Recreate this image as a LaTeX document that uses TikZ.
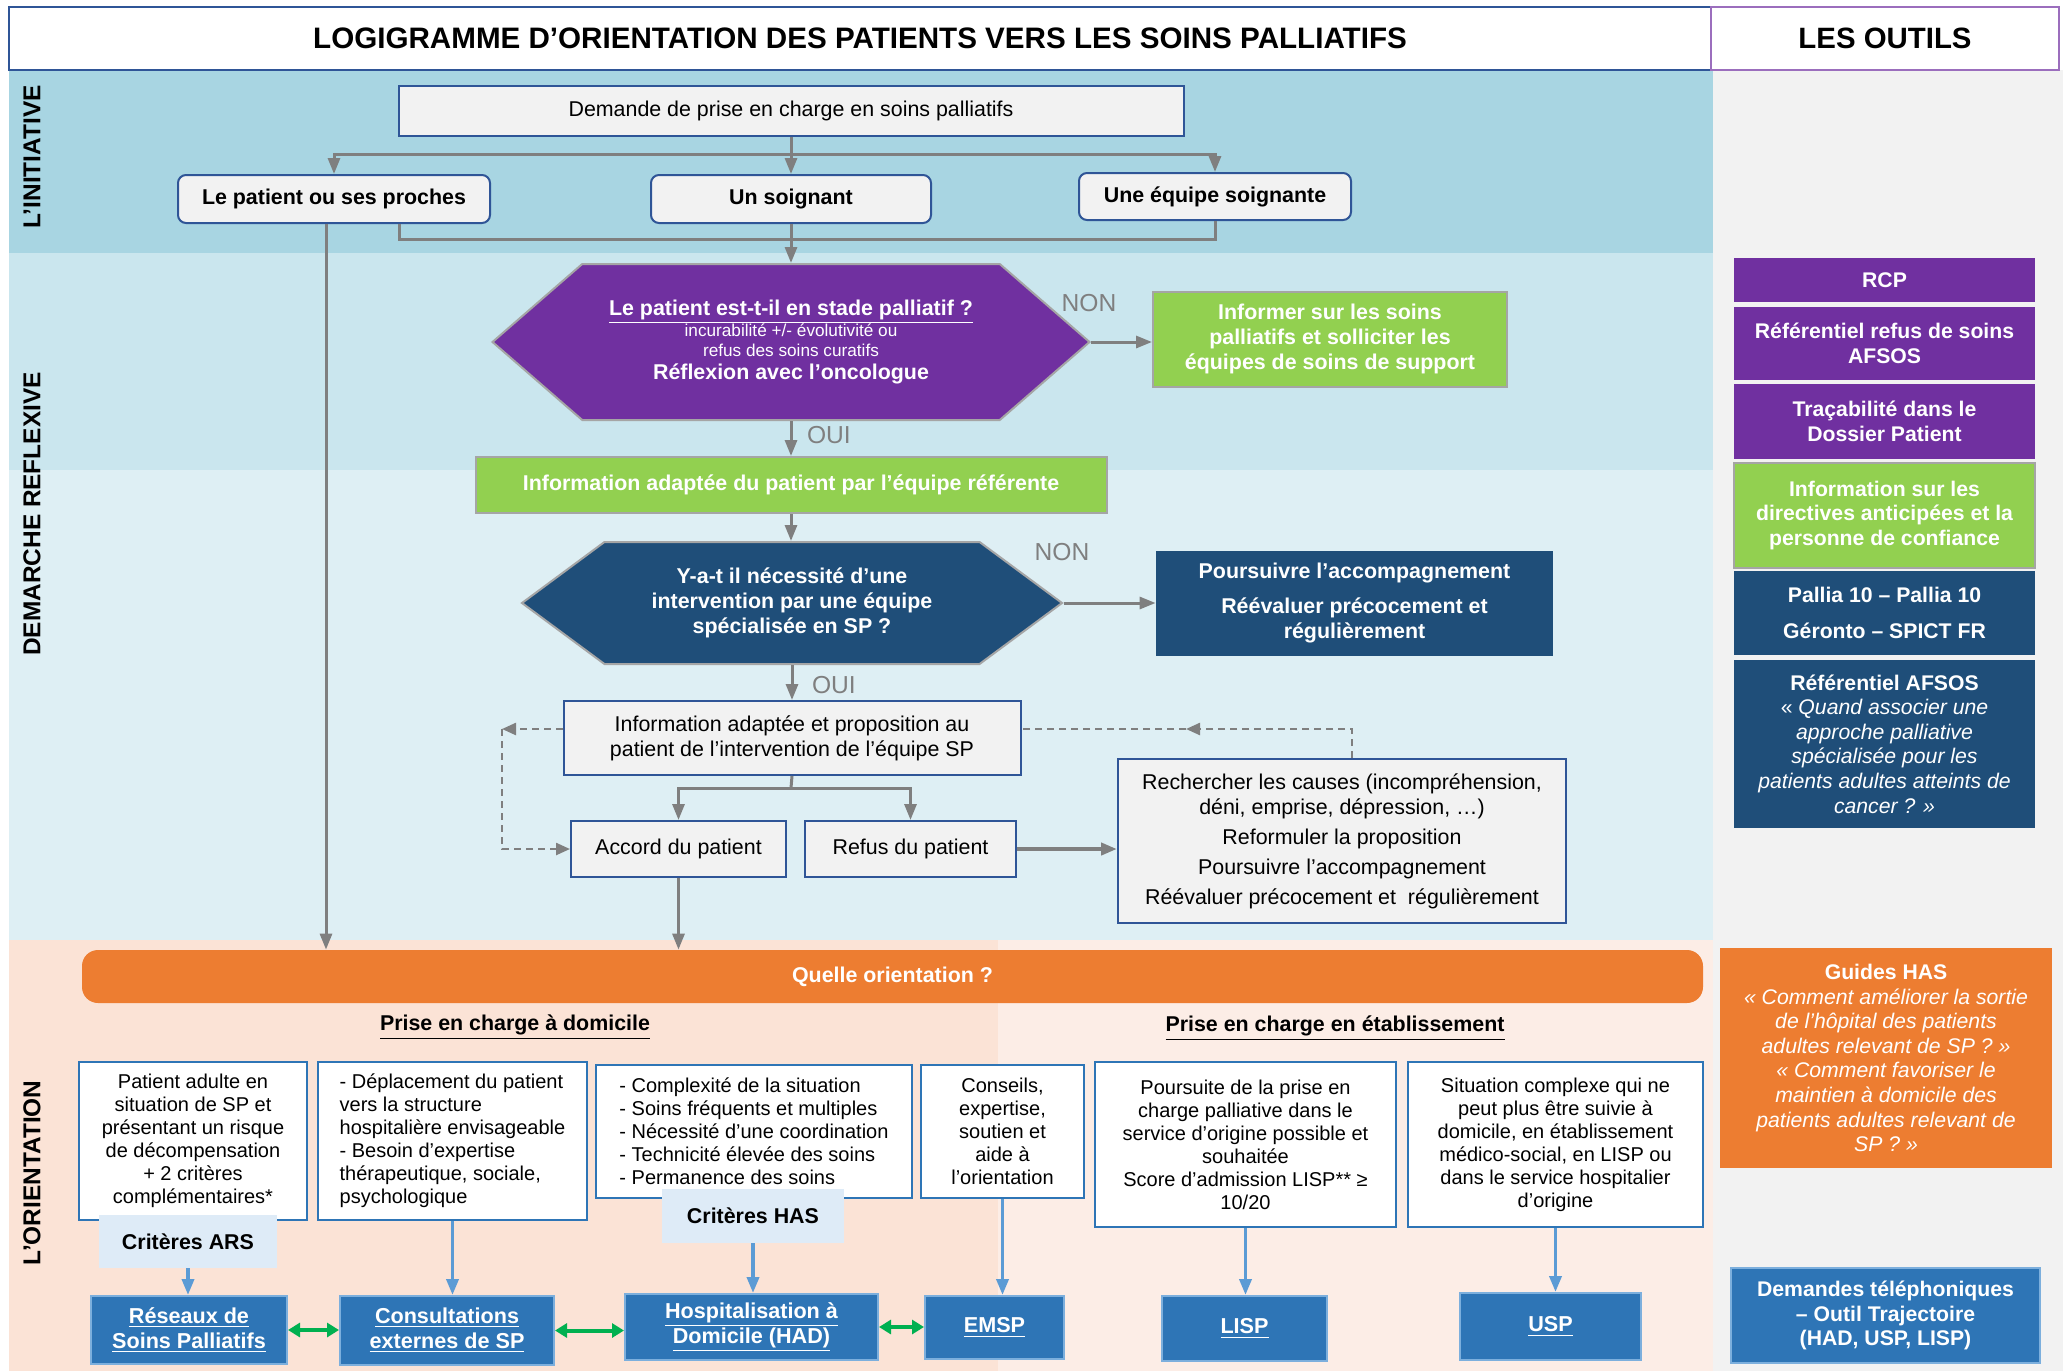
\documentclass[tikz,border=0pt]{standalone}
\usepackage{fontspec}
\setmainfont{Liberation Sans}
\usetikzlibrary{shapes,shapes.symbols,arrows.meta,positioning}
\usepackage{xcolor}

\definecolor{bandinit}{HTML}{A8D5E2}
\definecolor{bandrefa}{HTML}{CAE6EE}
\definecolor{bandrefb}{HTML}{DEEFF4}
\definecolor{bandora}{HTML}{FBE3D6}
\definecolor{bandorb}{HTML}{FCEDE6}
\definecolor{toolbg}{HTML}{F2F2F2}
\definecolor{lgrey}{HTML}{F2F2F2}
\definecolor{dblue}{HTML}{2F5597}
\definecolor{navy}{HTML}{1F4E79}
\definecolor{midblue}{HTML}{2E75B6}
\definecolor{skyblue}{HTML}{5B9BD5}
\definecolor{pale}{HTML}{DEEBF7}
\definecolor{violet}{HTML}{7030A0}
\definecolor{lime}{HTML}{92D050}
\definecolor{orangeHAS}{HTML}{ED7D31}
\definecolor{linegrey}{HTML}{7F7F7F}
\definecolor{bordergrey}{HTML}{A5A5A5}
\definecolor{greenarrow}{HTML}{00B050}

\tikzset{
  base/.style={font=\fontsize{10.7}{12.5}\selectfont, align=center, inner sep=2pt},
  greybox/.style={base, draw=dblue, line width=1pt, fill=lgrey},
  choice/.style={greybox, rounded corners=4pt, font=\fontsize{10.7}{12.5}\selectfont\bfseries},
  greenbox/.style={base, draw=bordergrey, line width=1pt, fill=lime, text=white, font=\fontsize{10.7}{12.3}\selectfont\bfseries},
  hexa/.style={base, signal, signal to=west and east, draw=bordergrey, line width=1pt, text=white},
  navybox/.style={base, fill=navy, text=white, font=\fontsize{10.7}{12.5}\selectfont\bfseries},
  crit/.style={base, draw=midblue, line width=1pt, fill=white, font=\fontsize{10}{11.5}\selectfont},
  critlabel/.style={base, fill=pale, font=\fontsize{10.7}{12.5}\selectfont\bfseries},
  service/.style={base, fill=midblue, draw=skyblue!80, line width=1pt, text=white, font=\fontsize{10.8}{12.5}\selectfont\bfseries},
  tool/.style={base, minimum width=150.5pt, text=white, font=\fontsize{10.6}{12.3}\selectfont\bfseries},
  answer/.style={font=\fontsize{12.3}{14}\selectfont, text=linegrey},
  band/.style={font=\fontsize{12.2}{14}\selectfont\bfseries, rotate=90},
  line/.style={draw=linegrey, line width=1.5pt},
  flow/.style={line, -{Triangle[length=8pt,width=6pt]}},
  dashline/.style={draw=linegrey, line width=1.2pt, dash pattern=on 3.5pt off 2.5pt},
  dashflow/.style={dashline, -{Triangle[length=7pt,width=6pt]}},
  down/.style={draw=skyblue, line width=1.8pt, -{Triangle[length=8pt,width=6pt]}},
  both/.style={draw=greenarrow, line width=2pt, {Triangle[length=6pt,width=7pt]}-{Triangle[length=6pt,width=7pt]}}
}

\begin{document}
\begin{tikzpicture}[x=0.5pt,y=-0.5pt]
\useasboundingbox (0,0) rectangle (2067,1371);

\fill[bandinit] (9,70) rectangle (1713,253);
\fill[bandrefa] (9,253) rectangle (1713,470);
\fill[bandrefb] (9,470) rectangle (1713,940);
\fill[bandora] (9,940) rectangle (998,1371);
\fill[bandorb] (998,940) rectangle (1713,1371);
\fill[toolbg] (1713,70) rectangle (2063,1371);

\node[base, draw=dblue, line width=1pt, minimum width=851pt, minimum height=31.5pt, font=\fontsize{14.8}{16}\selectfont\bfseries] (title) at (860,38.5)
  {LOGIGRAMME D’ORIENTATION DES PATIENTS VERS LES SOINS PALLIATIFS};
\node[base, draw=violet!70, line width=1pt, minimum width=174pt, minimum height=31.5pt, font=\fontsize{14.7}{16}\selectfont\bfseries] (outils) at (1885,38.5)
  {LES OUTILS};

\node[band] (lblinit) at (32,157) {L’INITIATIVE};
\node[band] (lblref) at (32,514) {DEMARCHE REFLEXIVE};
\node[band] (lblorient) at (32,1173) {L’ORIENTATION};

\node[greybox, minimum width=392.5pt, minimum height=25pt] (demande) at (791,111)
  {Demande de prise en charge en soins palliatifs};
\node[choice, minimum width=156pt, minimum height=24pt] (patient) at (334,199) {Le patient ou ses proches};
\node[choice, minimum width=140pt, minimum height=24pt] (soignant) at (791,199) {Un soignant};
\node[choice, minimum width=136pt, minimum height=23.5pt] (equipe) at (1215,196.5) {Une équipe soignante};

\coordinate (split) at (791,154);
\draw[line] (demande.south) -- (split);
\draw[flow] (split) -| (patient.north);
\draw[flow] (split) -| (equipe.north);
\draw[flow] (split) -- (soignant.north);

\node[hexa, fill=violet, signal pointer angle=82, minimum width=298.5pt, minimum height=78pt] (q1) at (791,342)
  {\underline{\textbf{Le patient est-t-il en stade palliatif ?}}\\[-2pt]
   {\fontsize{8.6}{10}\selectfont incurabilité +/- évolutivité ou}\\[-2.6pt]
   {\fontsize{8.6}{10}\selectfont refus des soins curatifs}\\[-0.7pt]
   \textbf{Réflexion avec l’oncologue}};

\coordinate (join) at (399,239);
\draw[line] (patient.south -| join) -- (join) -| (equipe.south);
\draw[flow] (soignant.south) -- (q1.north);

\node[greenbox, minimum width=177pt, minimum height=47.5pt] (informer) at (1330,339)
  {Informer sur les soins\\palliatifs et solliciter les\\équipes de soins de support};
\node[answer] (non1) at (1089,303) {NON};
\draw[flow] (q1.east) -- (q1.east -| informer.west);

\node[greenbox, minimum width=315.5pt, minimum height=28pt] (infoadapt) at (791,485)
  {Information adaptée du patient par l’équipe référente};
\node[answer, anchor=west] (oui1) at (800,435) {OUI};
\draw[flow] (q1.south) -- (infoadapt.north);

\node[hexa, fill=navy, signal pointer angle=73, minimum width=270pt, minimum height=61pt, font=\fontsize{10.7}{12.5}\selectfont\bfseries] (q2) at (792,603)
  {Y-a-t il nécessité d’une\\intervention par une équipe\\spécialisée en SP ?};
\draw[flow] (infoadapt.south) -- (infoadapt.south |- q2.north);

\node[navybox, minimum width=198.5pt, minimum height=52.5pt] (poursuivre) at (1354.5,603.5)
  {Poursuivre l’accompagnement\\[5pt]Réévaluer précocement et\\régulièrement};
\node[answer] (non2) at (1062,552) {NON};
\draw[flow] (q2.east) -- (q2.east -| poursuivre.west);

\node[greybox, minimum width=228.5pt, minimum height=37pt] (proposition) at (792,738)
  {Information adaptée et proposition au\\patient de l’intervention de l’équipe SP};
\node[answer, anchor=west] (oui2) at (805,685) {OUI};
\draw[flow] (q2.south) -- (proposition.north);

\node[greybox, minimum width=107.5pt, minimum height=28pt] (accord) at (678.5,849) {Accord du patient};
\node[greybox, minimum width=105.5pt, minimum height=28pt] (refus) at (910.5,849) {Refus du patient};
\node[greybox, minimum width=224pt, minimum height=82pt] (causes) at (1342,841)
  {Rechercher les causes (incompréhension,\\déni, emprise, dépression, …)\\[2.5pt]Reformuler la proposition\\[2.5pt]Poursuivre l’accompagnement\\[2.5pt]Réévaluer précocement et~ régulièrement};

\coordinate (fork) at (791,788);
\draw[line] (proposition.south) -- (fork);
\draw[flow] (fork) -| (accord.north);
\draw[flow] (fork) -| (refus.north);
\draw[flow, line width=2pt] (refus.east) -- (causes.west |- refus.east);

\coordinate (retour) at (1352,729);
\coordinate (retmid) at (1186,729);
\draw[dashflow] (causes.north -| retour) -- (retour) -- (retmid);
\draw[dashline] (retmid) -- (proposition.east |- retmid);
\coordinate (gauche) at (502,729);
\draw[dashflow] (proposition.west |- gauche) -- (gauche);
\draw[dashflow] (gauche) |- (accord.west);

\node[base, fill=orangeHAS, rounded corners=8pt, minimum width=810.5pt, minimum height=26.5pt, text=white, font=\fontsize{10.7}{12.5}\selectfont\bfseries] (orient) at (892.5,976.5)
  {Quelle orientation ?};
\draw[flow] (patient.south -| 326,0) -- (orient.north -| 326,0);
\draw[flow] (accord.south) -- (accord.south |- orient.north);

\node[base, font=\fontsize{10.7}{12.5}\selectfont\bfseries] (domicile) at (515,1027) {\underline{Prise en charge à domicile}};
\node[base, font=\fontsize{10.7}{12.5}\selectfont\bfseries] (etab) at (1335,1028) {\underline{Prise en charge en établissement}};

\node[crit, minimum width=114pt, minimum height=79pt] (ars) at (193,1141)
  {Patient adulte en\\situation de SP et\\présentant un risque\\de décompensation\\+ 2 critères\\complémentaires*};
\node[crit, minimum width=134.5pt, minimum height=79pt, align=left] (deplace) at (452.5,1141)
  {- Déplacement du patient\\vers la structure\\hospitalière envisageable\\- Besoin d’expertise\\thérapeutique, sociale,\\psychologique};
\node[crit, minimum width=158pt, minimum height=66.5pt, align=left] (complex) at (754,1131.5)
  {- Complexité de la situation\\- Soins fréquents et multiples\\- Nécessité d’une coordination\\- Technicité élevée des soins\\- Permanence des soins};
\node[crit, minimum width=81.5pt, minimum height=66.5pt] (conseil) at (1002.5,1131.5)
  {Conseils,\\expertise,\\soutien et\\aide à\\l’orientation};
\node[crit, minimum width=150.5pt, minimum height=82.5pt] (poursuite) at (1245.5,1144.5)
  {Poursuite de la prise en\\charge palliative dans le\\service d’origine possible et\\souhaitée\\Score d’admission LISP** ≥\\10/20};
\node[crit, minimum width=147.5pt, minimum height=82.5pt] (situation) at (1555.5,1144.5)
  {Situation complexe qui ne\\peut plus être suivie à\\domicile, en établissement\\médico-social, en LISP ou\\dans le service hospitalier\\d’origine};

\node[critlabel, minimum width=89pt, minimum height=26.5pt] (critars) at (188,1241.5) {Critères ARS};
\node[critlabel, minimum width=91pt, minimum height=27pt] (crithas) at (753,1216) {Critères HAS};

\node[service, minimum width=98pt, minimum height=34pt] (reseaux) at (189,1330) {\underline{Réseaux de}\\\underline{Soins Palliatifs}};
\node[service, minimum width=107pt, minimum height=34.5pt] (consult) at (447,1330.5) {\underline{Consultations}\\\underline{externes de SP}};
\node[service, minimum width=126.5pt, minimum height=33pt] (had) at (751.5,1327) {\underline{Hospitalisation à}\\\underline{Domicile (HAD)}};
\node[service, minimum width=69.5pt, minimum height=31.5pt] (emsp) at (994.5,1327.5) {\underline{EMSP}};
\node[service, minimum width=82.5pt, minimum height=32.5pt] (lisp) at (1244.5,1328.5) {\underline{LISP}};
\node[service, minimum width=90.5pt, minimum height=33.5pt] (usp) at (1550.5,1326.5) {\underline{USP}};

\draw[down] (critars.south) -- (critars.south |- reseaux.north);
\draw[down] (deplace.south) -- (deplace.south |- consult.north);
\draw[down] (crithas.south) -- (crithas.south |- had.north);
\draw[down] (conseil.south) -- (conseil.south |- emsp.north);
\draw[down] (poursuite.south) -- (poursuite.south |- lisp.north);
\draw[down] (situation.south) -- (situation.south |- usp.north);

\draw[both] (reseaux.east) -- (reseaux.east -| consult.west);
\draw[both] (consult.east) -- (consult.east -| had.west);
\draw[both] (had.east) -- (had.east -| emsp.west);

\node[tool, fill=violet, minimum height=22pt] (rcp) at (1884.5,280) {RCP};
\node[tool, fill=violet, minimum height=36.5pt] (refafsos) at (1884.5,343.5) {Référentiel refus de soins\\AFSOS};
\node[tool, fill=violet, minimum height=37.5pt] (traca) at (1884.5,421.5) {Traçabilité dans le\\Dossier Patient};
\node[tool, fill=lime, draw=bordergrey, line width=1pt, minimum height=52.5pt] (directives) at (1884.5,515.5)
  {Information sur les\\directives anticipées et la\\personne de confiance};
\node[tool, fill=navy, minimum height=42pt] (pallia) at (1884.5,613) {Pallia 10 – Pallia 10\\[6pt]Géronto – SPICT FR};
\node[tool, fill=navy, minimum height=84pt] (afsos) at (1884.5,744)
  {Référentiel AFSOS\\\normalfont«~\itshape Quand associer une\\\normalfont\itshape approche palliative\\\normalfont\itshape spécialisée pour les\\\normalfont\itshape patients adultes atteints de\\\normalfont\itshape cancer ? »};
\node[tool, fill=orangeHAS, minimum width=166pt, minimum height=110pt] (guides) at (1886,1058)
  {Guides HAS\\\normalfont\itshape « Comment améliorer la sortie\\\normalfont\itshape de l’hôpital des patients\\\normalfont\itshape adultes relevant de SP ? »\\\normalfont\itshape « Comment favoriser le\\\normalfont\itshape maintien à domicile des\\\normalfont\itshape patients adultes relevant de\\\normalfont\itshape SP ? »};
\node[tool, fill=midblue, draw=skyblue!80, line width=1pt, minimum width=154.5pt, minimum height=47.5pt] (phone) at (1885.5,1315.5)
  {Demandes téléphoniques\\– Outil Trajectoire\\(HAD, USP, LISP)};
\end{tikzpicture}
\end{document}
